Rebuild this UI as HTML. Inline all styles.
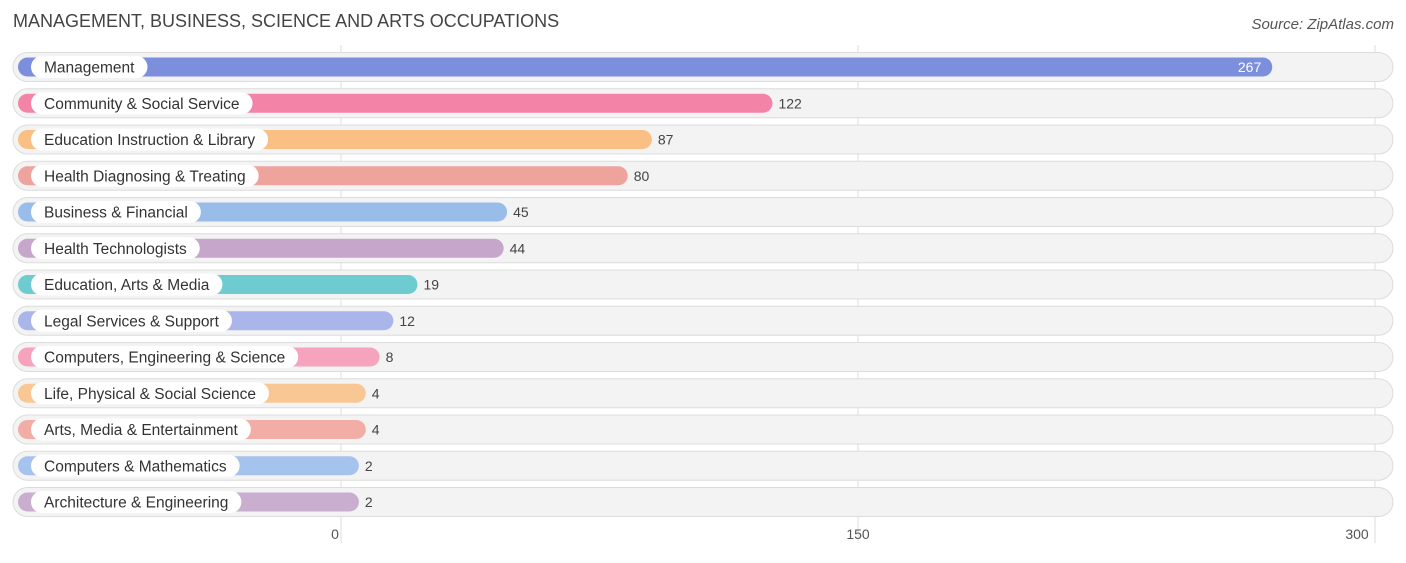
<!DOCTYPE html>
<html><head><meta charset="utf-8"><style>
body{margin:0;background:#fff;font-family:"Liberation Sans",sans-serif;}
#wrap{position:relative;width:1406px;height:558px;}
</style></head><body>
<div id="wrap">
<svg id="chart" width="1406" height="558" xmlns="http://www.w3.org/2000/svg">
<text x="13" y="27" font-size="18" fill="#444">MANAGEMENT, BUSINESS, SCIENCE AND ARTS OCCUPATIONS</text>
<text x="1394" y="29" font-size="15" fill="#555" font-style="italic" text-anchor="end">Source: ZipAtlas.com</text>
<g id="grid"></g><g id="rows"></g><g id="ticks"></g>
</svg>
</div>
<script>
const categories=["Management","Community & Social Service","Education Instruction & Library","Health Diagnosing & Treating","Business & Financial","Health Technologists","Education, Arts & Media","Legal Services & Support","Computers, Engineering & Science","Life, Physical & Social Science","Arts, Media & Entertainment","Computers & Mathematics","Architecture & Engineering"];
const values=[267,122,87,80,45,44,19,12,8,4,4,2,2];
const colors=["#7b8fdc","#f384a8","#f9bf84","#eea39c","#98bde8","#c6a6cb","#6ecbd0","#aab6ea","#f6a3bd","#f9c793","#f2ada6","#a5c3ec","#c9aed0"];
const tickValues=[0,150,300];
const NS="http://www.w3.org/2000/svg";
const x0=341,scale=517/150;
function xs(v){return x0+v*scale;}
function yc(i){return 67+i*36.25;}
function mk(t,a,p){const e=document.createElementNS(NS,t);for(const k in a)e.setAttribute(k,a[k]);p.appendChild(e);return e;}
const grid=document.getElementById('grid'),rows=document.getElementById('rows'),ticks=document.getElementById('ticks');
tickValues.forEach(t=>{
 const l=mk('line',{x1:xs(t),x2:xs(t),y1:45,y2:543,stroke:'#ddd','stroke-width':1},grid);
 
 
 const tx=mk('text',{x:xs(t)-(t===0?6:t===300?18:0),y:539,'font-size':14,fill:'#555','text-anchor':'middle'},ticks);
 tx.textContent=t;
 
 
});
categories.forEach((c,i)=>{
 const y=yc(i),v=values[i];
 const g=mk('g',{},rows);
 
 
 const bg=mk('rect',{x:13,y:y-14.5,width:1380,height:29,rx:14.5,fill:'#f3f3f3',stroke:'#dcdcdc','stroke-width':1},g);
 
 
 const end=xs(v)+11;
 const bar=mk('rect',{x:18,y:y-9.5,width:end-18,height:19,rx:9.5,fill:colors[i]},g);
 
 
 const lbl=mk('text',{x:44,y:y+5.5,'font-size':15.5,fill:'#333'},g);
 lbl.textContent=c;
 
 
 const w=lbl.getComputedTextLength();
 const pill=mk('rect',{x:31,y:y-11,width:w+26,height:22,rx:11,fill:'#fff'},g);
 
 
 g.insertBefore(pill,lbl);
 const inside=v>200;
 const vt=mk('text',{x:inside?end-11:end+6,y:y+5,'font-size':14,fill:inside?'#fff':'#444','text-anchor':inside?'end':'start'},g);
 vt.textContent=v;
 
 
});
</script>
</body></html>
